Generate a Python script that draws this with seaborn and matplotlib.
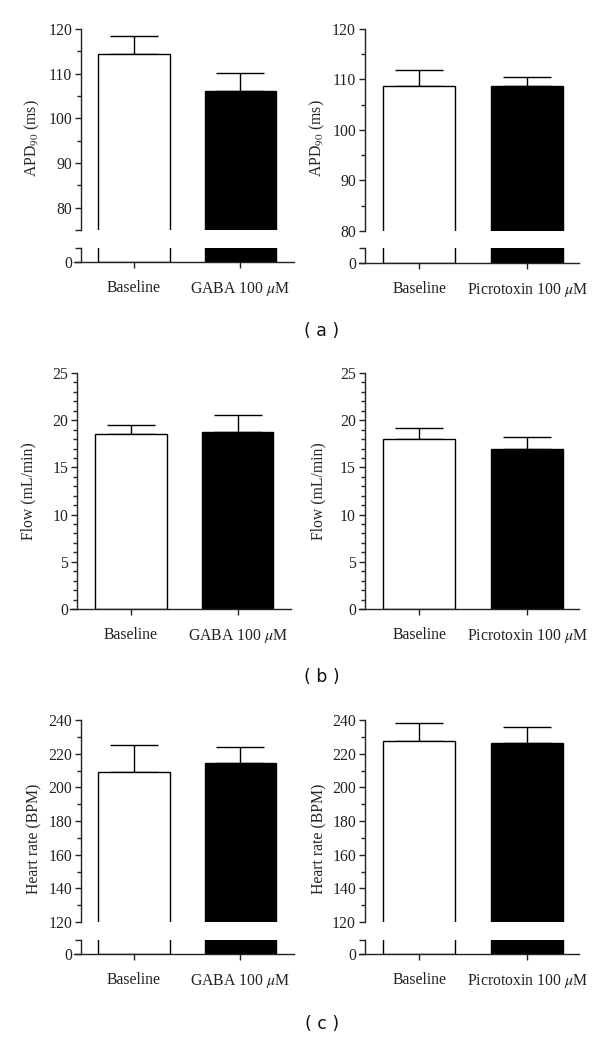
import numpy as np
import matplotlib
matplotlib.use("Agg")
import matplotlib.pyplot as plt
from matplotlib.ticker import MultipleLocator
import seaborn as sns

# ---------------- data ----------------
cats_gaba = ["Baseline", r"GABA 100 $\mu$M"]
cats_picro = ["Baseline", r"Picrotoxin 100 $\mu$M"]

apd_gaba = [114.3, 106.1]
apd_gaba_err = [4.2, 4.0]
apd_picro = [108.7, 108.8]
apd_picro_err = [3.1, 1.7]

flow_gaba = [18.5, 18.7]
flow_gaba_err = [1.0, 1.9]
flow_picro = [18.0, 17.0]
flow_picro_err = [1.2, 1.2]

hr_gaba = [209.3, 214.2]
hr_gaba_err = [15.8, 10.0]
hr_picro = [227.5, 226.5]
hr_picro_err = [10.5, 9.2]

colors = ["white", "black"]

sns.set_theme(style="ticks")
plt.rcParams["font.family"] = ["Liberation Serif", "DejaVu Serif"]
plt.rcParams["mathtext.fontset"] = "stix"
plt.rcParams["axes.linewidth"] = 1.0
plt.rcParams["axes.edgecolor"] = "#222222"
plt.rcParams["xtick.color"] = "#222222"
plt.rcParams["ytick.color"] = "#222222"
plt.rcParams["text.color"] = "#111111"

W, H = 600, 1039
fig = plt.figure(figsize=(W / 100, H / 100), dpi=100)

FS = 11.3
LBL_X = -0.145


def frac_rect(x0, x1, ytop, ybot):
    return [x0 / W, 1 - ybot / H, (x1 - x0) / W, (ybot - ytop) / H]


cols = {
    "L": dict(x0=74, x1=294, spine=0.032, xlim=(-0.566, 1.509)),
    "R": dict(x0=359, x1=579, spine=0.027, xlim=(-0.556, 1.48)),
    "bL": dict(x0=70, x1=291, spine=0.032, xlim=(-0.57, 1.50)),
    "bR": dict(x0=359, x1=579, spine=0.027, xlim=(-0.556, 1.48)),
}


def draw_bars(ax, cats, vals, errs=None):
    sns.barplot(x=cats, y=vals, hue=cats, palette=colors, edgecolor="black",
                linewidth=1.0, width=0.67, errorbar=None, legend=False, ax=ax,
                saturation=1)
    if errs is not None:
        ax.errorbar(x=[0, 1], y=vals, yerr=[[0, 0], errs], fmt="none",
                    ecolor="black", elinewidth=1.0, capsize=17, capthick=1.0,
                    zorder=0)


def style_y(ax, col):
    ax.spines["left"].set_position(("axes", col["spine"]))
    ax.spines["right"].set_visible(False)
    ax.spines["top"].set_visible(False)
    ax.tick_params(axis="y", which="major", length=4.5, width=1.0,
                   labelsize=FS, pad=2)
    ax.tick_params(axis="y", which="minor", length=2.8, width=1.0)
    ax.set_xlim(*col["xlim"])


def style_x(ax, cats):
    ax.set_xticks([0, 1])
    ax.set_xticklabels(cats, fontsize=FS)
    ax.tick_params(axis="x", length=4, width=1.0, pad=9)
    ax.set_xlabel("")


def broken_panel(colkey, ytop, ybreak, ylow_top, ybot, cats, vals, errs,
                 lim, ticks, labels, minor, ylabel, label_yc):
    col = cols[colkey]
    axu = fig.add_axes(frac_rect(col["x0"], col["x1"], ytop, ybreak))
    axl = fig.add_axes(frac_rect(col["x0"], col["x1"], ylow_top, ybot))
    axu.patch.set_alpha(0)
    axl.patch.set_alpha(0)
    draw_bars(axu, cats, vals, errs)
    draw_bars(axl, cats, vals)
    style_y(axu, col)
    style_y(axl, col)
    axu.set_ylim(*lim)
    axu.set_yticks(ticks)
    axu.set_yticklabels(labels)
    axu.yaxis.set_minor_locator(MultipleLocator(minor))
    axu.spines["bottom"].set_visible(False)
    axu.set_xticks([])
    axu.set_xlabel("")
    axu.set_ylabel(ylabel, fontsize=FS)
    yfrac = (ybreak - label_yc) / (ybreak - ytop)
    axu.yaxis.set_label_coords(LBL_X, yfrac)
    axl.set_ylim(0, 1)
    axl.set_yticks([0, 1])
    axl.set_yticklabels(["0", ""])
    style_x(axl, cats)
    axl.set_ylabel("")
    return axu, axl


# ---------------- row (a) ----------------
broken_panel("L", 29, 230, 248, 262, cats_gaba, apd_gaba, apd_gaba_err,
             (75, 120), [75, 80, 90, 100, 110, 120],
             ["", "80", "90", "100", "110", "120"], 5,
             r"APD$_{90}$ (ms)", 138)
broken_panel("R", 29, 231, 248, 263, cats_picro, apd_picro, apd_picro_err,
             (80, 120), [80, 90, 100, 110, 120],
             ["80", "90", "100", "110", "120"], 5,
             r"APD$_{90}$ (ms)", 138)

# ---------------- row (b) ----------------
for key, cats, vals, errs in [("bL", cats_gaba, flow_gaba, flow_gaba_err),
                              ("bR", cats_picro, flow_picro, flow_picro_err)]:
    col = cols[key]
    ax = fig.add_axes(frac_rect(col["x0"], col["x1"], 373, 609))
    ax.patch.set_alpha(0)
    draw_bars(ax, cats, vals, errs)
    style_y(ax, col)
    ax.set_ylim(0, 25)
    ax.set_yticks([0, 5, 10, 15, 20, 25])
    ax.set_yticklabels(["0", "5", "10", "15", "20", "25"])
    ax.yaxis.set_minor_locator(MultipleLocator(1))
    style_x(ax, cats)
    ax.set_ylabel("Flow (mL/min)", fontsize=FS)
    ax.yaxis.set_label_coords(-0.15, 0.5)

# ---------------- row (c) ----------------
hr_ticks = [120, 140, 160, 180, 200, 220, 240]
hr_labels = [str(t) for t in hr_ticks]
broken_panel("L", 720, 922, 940, 954, cats_gaba, hr_gaba, hr_gaba_err,
             (120, 240), hr_ticks, hr_labels, 10, "Heart rate (BPM)", 839)
broken_panel("R", 720, 922, 940, 954, cats_picro, hr_picro, hr_picro_err,
             (120, 240), hr_ticks, hr_labels, 10, "Heart rate (BPM)", 839)

# ---------------- panel letters ----------------
for txt, yc in [("( a )", 331), ("( b )", 677), ("( c )", 1024)]:
    fig.text(322 / W, 1 - yc / H, txt, ha="center", va="center",
             fontsize=12.5, family=["DejaVu Sans"])

fig.savefig("out.png", dpi=100)
